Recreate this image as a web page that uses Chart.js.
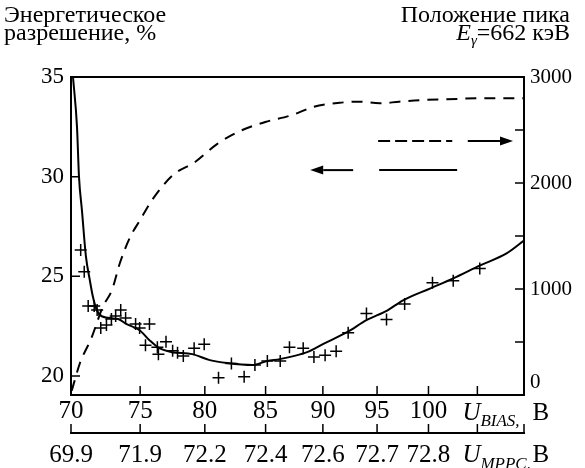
<!DOCTYPE html>
<html><head><meta charset="utf-8">
<script src="https://cdn.jsdelivr.net/npm/chart.js@4/dist/chart.umd.min.js"></script>
<style>html,body{margin:0;padding:0;background:#fff}canvas{display:block}</style>
</head><body>
<canvas id="c" width="585" height="468"></canvas>
<script>
// ---- axis ticks ----
const biasTicks = [70, 75, 80, 85, 90, 95, 100];
const mppcLabels = ['69.9', '71.9', '72.2', '72.4', '72.6', '72.7', '72.8'];
const resTicks = [20, 25, 30, 35];
const peakTicks = [0, 1000, 2000, 3000];
const peakMinorTicks = [500, 1500, 2500];

// ---- energy resolution, fitted curve (left axis) ----
const fitBias = [70.14, 70.42, 70.56, 70.77, 71.05, 71.33, 71.54, 71.83, 72.18, 73.37, 74.0, 74.96, 75.7, 76.45, 77.44, 79.0, 80.4, 81.8, 83.9, 85.1, 86.2, 87.4, 88.6, 90.0, 92.2, 94.0, 96.0, 97.5, 100.2, 102.5, 105.3, 108.1, 110.0];
const fitRes  = [35.0, 32.5, 30.0, 28.3, 26.0, 24.8, 24.0, 23.3, 23.0, 22.86, 22.6, 22.3, 21.8, 21.4, 21.2, 21.1, 20.8, 20.65, 20.55, 20.75, 20.85, 21.0, 21.2, 21.6, 22.2, 22.8, 23.3, 23.8, 24.4, 24.9, 25.55, 26.15, 26.8];

// ---- energy resolution, measured points (left axis) ----
const measBias = [70.68, 70.93, 71.21, 71.64, 71.85, 72.11, 72.52, 72.88, 73.19, 73.56, 73.92, 74.66, 74.96, 75.70, 75.40, 76.30, 76.38, 76.96, 77.47, 77.85, 78.30, 79.15, 79.95, 81.10, 82.15, 83.20, 84.10, 85.15, 86.25, 87.05, 88.25, 89.2, 90.2, 91.2, 92.3, 94.0, 95.9, 97.65, 100.4, 102.5, 105.25];
const measRes  = [26.32, 25.23, 23.51, 23.51, 23.31, 22.41, 22.56, 22.86, 23.01, 23.31, 22.91, 22.61, 22.41, 22.61, 21.55, 21.45, 21.10, 21.72, 21.27, 21.17, 21.00, 21.40, 21.60, 19.91, 20.63, 19.96, 20.55, 20.75, 20.75, 21.44, 21.39, 20.95, 21.05, 21.25, 22.17, 23.14, 22.84, 23.61, 24.68, 24.78, 25.40];

// ---- peak position (right axis) ----
const peakBias = [70.05, 70.63, 71.44, 72.25, 72.92, 73.5, 74.26, 75.0, 75.9, 77.5, 79.25, 80.95, 82.95, 84.97, 87.3, 89.2, 91.5, 93.35, 95.25, 97.1, 99.4, 101.8, 105.3, 110.0];
const peakPos  = [40, 302, 538, 830, 991, 1245, 1491, 1651, 1840, 2075, 2200, 2365, 2495, 2575, 2642, 2720, 2757, 2767, 2752, 2767, 2783, 2790, 2799, 2799];

// ---- legend arrows (in data units: U_BIAS, left-axis %) ----
const dashedKey = {y: 31.79, lineFrom: 95.1, lineTo: 102.4, arrowFrom: 104.0, arrowTo: 108.8};
const solidKey  = {y: 30.33, lineFrom: 95.2, lineTo: 102.9, arrowFrom: 92.76, arrowTo: 88.87};

const SERIF = "'Liberation Serif', 'Times New Roman', serif";
const xTickFont = {family: SERIF, size: 25};
const yTickFont = {family: SERIF, size: 23};
const y2TickFont = {family: SERIF, size: 21};

const zip = (xs, ys) => xs.map((v, i) => ({x: v, y: ys[i]}));
const tickList = [...biasTicks, 105].map(v => ({value: v}));

function runs(ctx, parts, x, y, align) {
  let w = 0;
  parts.forEach(p => { ctx.font = p.f; w += ctx.measureText(p.t).width; });
  let cx = align === 'right' ? x - w : x;
  ctx.textAlign = 'left'; ctx.textBaseline = 'alphabetic';
  parts.forEach(p => { ctx.font = p.f; ctx.fillText(p.t, cx, y + (p.dy || 0)); cx += ctx.measureText(p.t).width; });
}

function arrow(ctx, x0, x1, y) {
  const dir = Math.sign(x1 - x0);
  const L = 13, H = 4.5;
  ctx.beginPath(); ctx.moveTo(x0, y); ctx.lineTo(x1 - dir * L, y); ctx.stroke();
  ctx.beginPath(); ctx.moveTo(x1, y); ctx.lineTo(x1 - dir * L, y - H); ctx.lineTo(x1 - dir * L, y + H); ctx.closePath(); ctx.fill();
}

const decor = {
  id: 'decor',
  afterDraw(chart) {
    const {ctx, chartArea: a, scales} = chart;
    const {x, x2, y, y2} = scales;
    ctx.save();
    ctx.strokeStyle = '#000'; ctx.fillStyle = '#000';
    ctx.lineWidth = 2;
    ctx.beginPath(); ctx.moveTo(a.left - 1, a.top); ctx.lineTo(a.right + 1, a.top); ctx.stroke();
    // inward tick marks
    const T = 9;
    ctx.lineWidth = 1.5;
    ctx.beginPath();
    [...biasTicks.slice(1), 105].forEach(v => { const p = x.getPixelForValue(v); ctx.moveTo(p, x.top); ctx.lineTo(p, x.top - T); });
    [...biasTicks, 105].forEach(v => { const p = x2.getPixelForValue(v); ctx.moveTo(p, x2.top); ctx.lineTo(p, x2.top - T); });
    ctx.moveTo(x2.right, x2.top); ctx.lineTo(x2.right, x2.top - T);
    resTicks.forEach(v => { const p = y.getPixelForValue(v); ctx.moveTo(y.right, p); ctx.lineTo(y.right + T, p); });
    [...peakTicks, ...peakMinorTicks].forEach(v => { const p = y2.getPixelForValue(v); ctx.moveTo(y2.left, p); ctx.lineTo(y2.left - T, p); });
    ctx.stroke();

    // axis names on the x axes
    const px = x.getPixelForValue(105) - 15;
    const it = `italic 25px ${SERIF}`, sub = `italic 17px ${SERIF}`, rm = `25px ${SERIF}`;
    runs(ctx, [{t: 'U', f: it}, {t: 'BIAS', f: sub, dy: 6}, {t: ',', f: sub, dy: 6}], px, 420);
    runs(ctx, [{t: 'B', f: rm}], px + 70, 420);
    runs(ctx, [{t: 'U', f: it}, {t: 'MPPC', f: sub, dy: 7}, {t: ',', f: sub, dy: 7}], px, 462);
    runs(ctx, [{t: 'B', f: rm}], px + 70, 462);

    // axis titles at the top
    const tf = `24px ${SERIF}`, ti = `italic 24px ${SERIF}`, ts = `italic 15px ${SERIF}`;
    runs(ctx, [{t: 'Энергетическое', f: tf}], 4, 22);
    runs(ctx, [{t: 'разрешение, %', f: tf}], 4, 40);
    runs(ctx, [{t: 'Положение пика', f: tf}], 570, 22, 'right');
    runs(ctx, [{t: 'E', f: ti}, {t: 'γ', f: ts, dy: 5}, {t: '=662 кэВ', f: tf}], 570, 40, 'right');

    // key arrows
    ctx.lineWidth = 2;
    const yd = y.getPixelForValue(dashedKey.y);
    ctx.setLineDash([12, 5]);
    ctx.beginPath(); ctx.moveTo(x.getPixelForValue(dashedKey.lineFrom), yd); ctx.lineTo(x.getPixelForValue(dashedKey.lineTo), yd); ctx.stroke();
    ctx.setLineDash([]);
    arrow(ctx, x.getPixelForValue(dashedKey.arrowFrom), x.getPixelForValue(dashedKey.arrowTo), yd);
    const ys = y.getPixelForValue(solidKey.y);
    ctx.beginPath(); ctx.moveTo(x.getPixelForValue(solidKey.lineFrom), ys); ctx.lineTo(x.getPixelForValue(solidKey.lineTo), ys); ctx.stroke();
    arrow(ctx, x.getPixelForValue(solidKey.arrowFrom), x.getPixelForValue(solidKey.arrowTo), ys);
    ctx.restore();
  }
};

const bottomAxis = (weight, height, padding, labelFn) => ({
  type: 'logarithmic', position: 'bottom', weight, min: 70, max: 110,
  afterFit(s) { s.height = height; },
  afterBuildTicks(s) { s.ticks = tickList.map(t => ({...t})); },
  ticks: {font: xTickFont, color: '#000', padding, autoSkip: false, maxRotation: 0, minRotation: 0, callback: labelFn},
  grid: {display: false, drawTicks: false},
  border: {display: true, color: '#000', width: 2}
});

new Chart(document.getElementById('c'), {
  type: 'line',
  data: {
    datasets: [
      {data: zip(fitBias, fitRes), xAxisID: 'x', yAxisID: 'y', borderColor: '#000', borderWidth: 2, pointRadius: 0, cubicInterpolationMode: 'monotone', fill: false},
      {type: 'scatter', data: zip(measBias, measRes), xAxisID: 'x', yAxisID: 'y', showLine: false, pointStyle: 'cross', pointRadius: 6, borderWidth: 1.5, borderColor: '#000', backgroundColor: '#000'},
      {data: zip(peakBias, peakPos), xAxisID: 'x', yAxisID: 'y2', borderColor: '#000', borderWidth: 2, borderDash: [11, 8], pointRadius: 0, cubicInterpolationMode: 'monotone', fill: false}
    ]
  },
  options: {
    responsive: false, animation: false,
    layout: {padding: {top: 77, left: 0, right: 0, bottom: 0}},
    plugins: {legend: {display: false}, tooltip: {enabled: false}},
    scales: {
      x: bottomAxis(0, 38, 1, v => biasTicks.includes(v) ? String(v) : ''),
      x2: bottomAxis(1, 35, 7, v => { const i = biasTicks.indexOf(v); return i >= 0 ? mppcLabels[i] : ''; }),
      y: {
        position: 'left', min: 19.05, max: 35,
        afterFit(s) { s.width = 71; },
        afterBuildTicks(s) { s.ticks = resTicks.map(v => ({value: v})); },
        ticks: {font: yTickFont, color: '#000', padding: 7, callback: v => String(v)},
        grid: {display: false, drawTicks: false},
        border: {display: true, color: '#000', width: 2}
      },
      y2: {
        position: 'right', min: 0, max: 3000,
        afterFit(s) { s.width = 61; },
        afterBuildTicks(s) { s.ticks = peakTicks.map(v => ({value: v})); },
        ticks: {font: y2TickFont, color: '#000', padding: 6, callback: v => v === 0 ? ['0', ''] : String(v)},
        grid: {display: false, drawTicks: false},
        border: {display: true, color: '#000', width: 2}
      }
    }
  },
  plugins: [decor]
});
</script>
</body></html>
